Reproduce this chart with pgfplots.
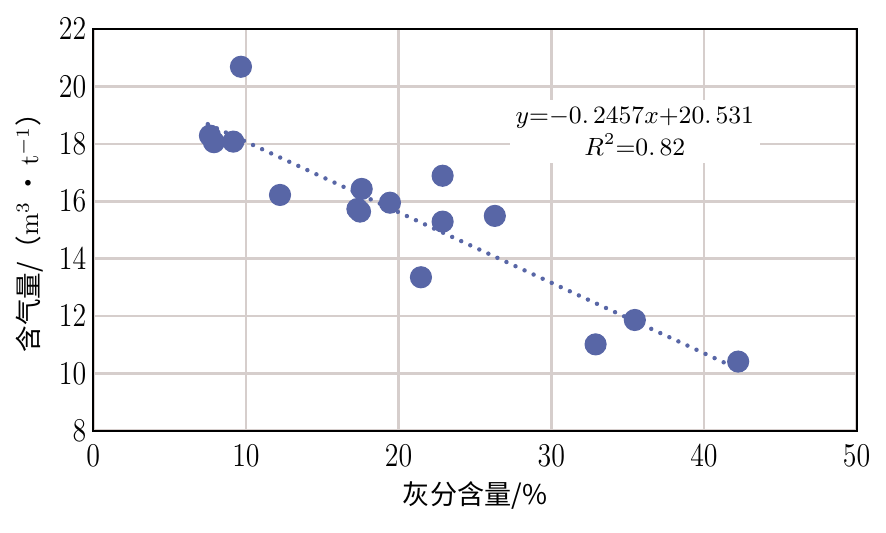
\documentclass[border=0pt]{standalone}
\usepackage{fontspec}
\usepackage{graphicx}
\usepackage{pgfplots}
\pgfplotsset{compat=1.18}
\newfontfamily\cjk{Noto Sans CJK SC}
\definecolor{mk}{RGB}{88,102,166}
\definecolor{gridc}{RGB}{214,206,204}
\begin{document}
\begin{tikzpicture}
\useasboundingbox (-33.7pt,-36.95pt) rectangle (286.3pt,155.55pt);
\begin{axis}[
  at={(0,0)}, anchor=south west,
  scale only axis, width=275.7pt, height=145pt,
  xmin=0, xmax=50, ymin=8, ymax=22,
  xtick={0,10,...,50}, ytick={8,10,...,22},
  grid=major, major grid style={gridc, line width=0.9pt},
  axis line style={black, line width=0.8pt},
  major tick length=0pt,
  tick label style={font=\fontsize{11.5}{13}\selectfont},
  xticklabel={\scalebox{0.84}[1]{$\pgfmathprintnumber{\tick}$}},
  yticklabel={\scalebox{0.84}[1]{$\pgfmathprintnumber{\tick}$}},
  xticklabel style={yshift=-1.5pt},
  yticklabel style={xshift=1pt},
  xlabel={\cjk\fontsize{9.8}{11}\selectfont 灰分含量/\%},
  xlabel style={at={(axis description cs:0.5,-0.161)}, anchor=center},
  ylabel={\fontsize{9.6}{11}\selectfont{\cjk 含气量/（}m\textsuperscript{3}\,{\cjk •}\,t\textsuperscript{$-$1}{\cjk ）}},
  ylabel style={at={(axis description cs:-0.083,0.51)}, anchor=center},
]
\addplot[mk, line width=1.6pt, line cap=round, dash pattern=on 0pt off 3.6pt]
  coordinates {(7.5,18.69) (42.0,10.21)};
\addplot[only marks, mark=*, mark size=3.8pt, mk, mark options={fill=mk, draw=mk}]
  coordinates {
  (9.67,20.69) (7.64,18.29) (7.90,18.06) (9.17,18.08) (12.23,16.22)
  (17.58,16.43) (17.47,15.64) (17.30,15.73) (19.43,15.95) (22.88,16.89)
  (22.88,15.29) (26.30,15.49) (21.46,13.35) (35.47,11.86) (32.90,11.01)
  (42.24,10.41)
  };
\node[fill=white, inner sep=0pt, minimum width=90.3pt, minimum height=22.8pt, align=center,
  font=\fontsize{9}{11.6}\selectfont] at (axis cs:35.47,18.44)
  {$y$=$-$0.\,2457$x$+20.\,531\\$R^2$=0.\,82};
\end{axis}
\end{tikzpicture}
\end{document}
